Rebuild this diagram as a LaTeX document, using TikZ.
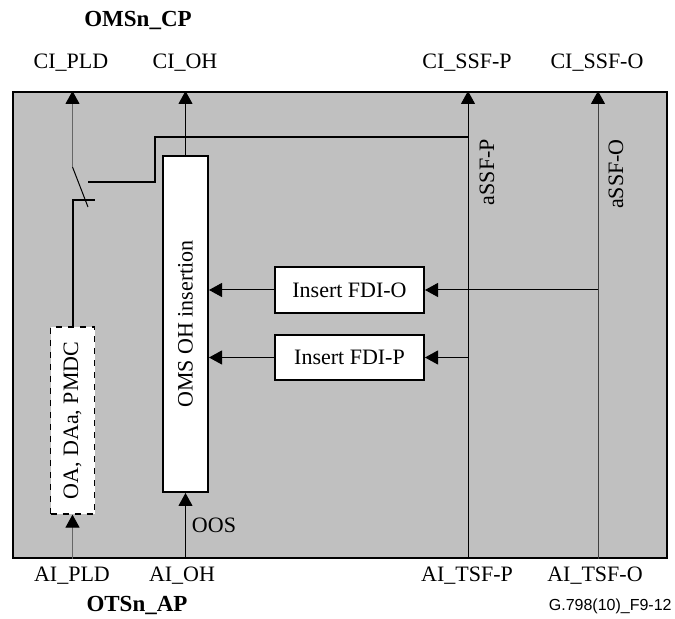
\documentclass[tikz,border=0pt]{standalone}
\usepackage{fontspec}
\setmainfont{Liberation Serif}
\newfontfamily\figfont{Liberation Sans}
\usetikzlibrary{arrows.meta,positioning}

\begin{document}
\begin{tikzpicture}[
            x=0.5pt,y=-0.5pt,
            font=\fontsize{11}{13}\selectfont,
            >={Triangle[length=6.5pt,width=7pt,black]},
            frame/.style={draw,line width=1pt,fill=boxgray,minimum width=327pt,minimum height=233pt,inner sep=0},
            blk/.style={draw,line width=1pt,fill=white,inner sep=0,align=center},
            dblk/.style={blk,dashed,line width=0.6pt},
            lab/.style={anchor=base,inner sep=0},
            sig/.style={draw,line width=0.5pt},
            thk/.style={draw,line width=1pt}
          ]
          \definecolor{boxgray}{HTML}{C0C0C0}
          \useasboundingbox (0,0) rectangle (675,619);

          %frame
          \node[frame] (blk) at (340,325) {};

          %blocks
          \node[blk,minimum width=22.5pt,minimum height=168pt] (oms) at (185.5,324) {\rotatebox{90}{OMS OH insertion}};
          \node[dblk,minimum width=22pt,minimum height=93.5pt] (pmdc) at (72.5,420.5) {\rotatebox{90}{OA, DAa, PMDC}};
          \node[blk,minimum width=74.5pt,minimum height=23pt] (fdiO) at (349.5,290) {Insert FDI-O};
          \node[blk,minimum width=74.5pt,minimum height=22.5pt] (fdiP) at (349.5,357.5) {Insert FDI-P};

          %labels top
          \node[lab,font=\fontsize{11.5}{13}\selectfont\bfseries] (omscp) at (138,27) {OMSn\_CP};
          \node[lab] (ciPLD) at (71,69) {CI\_PLD};
          \node[lab] (ciOH) at (185,69) {CI\_OH};
          \node[lab] (ciSSFP) at (467,69) {CI\_SSF-P};
          \node[lab] (ciSSFO) at (597,69) {CI\_SSF-O};

          %labels bottom
          \node[lab] (aiPLD) at (72,582) {AI\_PLD};
          \node[lab] (aiOH) at (182,582) {AI\_OH};
          \node[lab] (aiTSFP) at (467,582) {AI\_TSF-P};
          \node[lab] (aiTSFO) at (595,582) {AI\_TSF-O};
          \node[lab,font=\fontsize{11.5}{13}\selectfont\bfseries] (otsap) at (137,612) {OTSn\_AP};
          \node[lab,anchor=base east,font=\figfont\fontsize{8}{10}\selectfont] (fig) at (672,611) {G.798(10)\_F9-12};

          %signal labels
          \node[lab] (oos) at (214,533) {OOS};
          \node[rotate=90,inner sep=0] (assfP) at (487,172) {aSSF-P};
          \node[rotate=90,inner sep=0] (assfO) at (616,174) {aSSF-O};

          %switch
          \coordinate (swA) at (72.5,167);
          \coordinate (swB) at (88,207);
          \coordinate (swC) at (72.5,200);
          \coordinate (swD) at (95,200);
          \coordinate (swE) at (88,182);
          \coordinate (ssfP) at (468,137);
          \coordinate (ssfO) at (598,290);

          %connectors
          \path[sig,->,draw=black!60] (pmdc.south |- blk.south) -- (pmdc.south);
          \path[thk] (pmdc.north) -- (swC) -- (swD);
          \path[sig] (swA) -- (swB);
          \path[sig,->,draw=black!60] (swA) -- (swA |- blk.north);
          \path[thk] (swE) -- (155,182) -- (155,137) -- (ssfP);
          \path[sig,->] (oms.south |- blk.south) -- (oms.south);
          \path[sig,->] (oms.north) -- (oms.north |- blk.north);
          \path[sig,->] (ssfP |- blk.south) -- (ssfP |- blk.north);
          \path[sig,->,draw=black!75] (ssfO |- blk.south) -- (ssfO |- blk.north);
          \path[sig,->] (ssfO) -- (fdiO.east);
          \path[sig,->] (fdiO.west) -- (fdiO.west -| oms.east);
          \path[sig,->] (fdiP.east -| ssfP) -- (fdiP.east);
          \path[sig,->] (fdiP.west) -- (fdiP.west -| oms.east);
      \end{tikzpicture}
\end{document}
